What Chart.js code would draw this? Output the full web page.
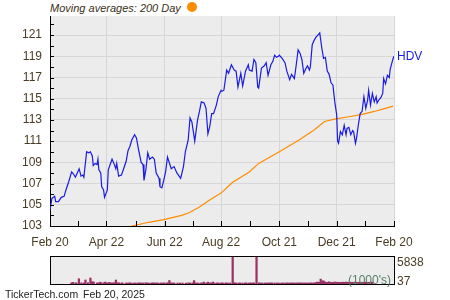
<!DOCTYPE html>
<html>
<head>
<meta charset="utf-8">
<script src="https://cdn.jsdelivr.net/npm/chart.js@4/dist/chart.umd.min.js"></script>
<style>
  body { margin:0; background:#fff; width:450px; height:300px; overflow:hidden; position:relative;
         font-family:'Liberation Sans', Arial, sans-serif; }
  #mainBox { position:absolute; left:0; top:0; width:450px; height:250px; }
  #volBox  { position:absolute; left:0; top:250px; width:450px; height:50px; }
  .txt { position:absolute; white-space:nowrap; font-size:12px; line-height:14px; }
  #title { left:50px; top:1px; font-size:11px; font-style:italic; color:#3a3020; }
  #dot { position:absolute; left:187px; top:2px; width:10px; height:10px; border-radius:50%; background:#ff8c00; }
  #foot1 { left:5px; top:287px; font-size:10.5px; color:#222; }
  #foot2 { left:83px; top:287px; font-size:10.5px; color:#222; }
</style>
</head>
<body>
<div class="txt" id="title">Moving averages: 200 Day</div>
<div id="dot"></div>
<div id="mainBox"><canvas id="mainChart" width="450" height="250"></canvas></div>
<div id="volBox"><canvas id="volChart" width="450" height="50"></canvas></div>
<div class="txt" id="foot1">TickerTech.com</div>
<div class="txt" id="foot2">Feb 20, 2025</div>
<script>
// x = days since Feb 20, 2024
const hdvDays = [0,2,5,6,9,12,15,17,20,23, 25,27,31,33,35,36,39,41,43,45,
  46,48,50,51,52,54,55,57,58,61, 62,66,68,70,71,73,76,78,81,83,
  85,87,90,92,94,97,99,100,102,104, 106,109,111,113,116,117,119,121,123,125,
  129,132,135,139,142,144,147,149,151,154, 157,159,161,164,166,168,170,172,174,177,
  179,182,183,185,188,190,193,196,198,200, 203,205,208,211,212,215,217,219,221,222,
  225,228,230,232,235,237,239,241,243,244, 247,250,252,255,257,260,262,264,266,268,
  270,272,274,276,277,279,281,283,285,287, 289,291,293,295,297,299,301,303,305,306,
  307,309,311,313,315,316,318,320,322,323, 325,326,328,330,332,334,336,338,339,341,
  343,345,347,348,350,352,354,355,357,359, 361,362,365,366];
const hdvClose = [104.5,105.6,105.8,105.3,105.3,105.7,105.8,106.4,107.2,108.1,
  107.9,107.6,108.4,107.7,107.8,107.6,110.0,109.9,110.0,109.6,
  108.7,108.9,108.8,109.3,108.3,108.0,106.7,106.4,105.7,106.4,
  108.3,109.3,108.9,108.4,108.9,107.7,107.8,108.3,109.1,110.1,
  110.5,111.1,111.6,111.3,110.3,109.0,108.8,107.3,108.3,109.9,
  109.3,109.5,109.3,108.0,107.5,106.7,106.6,107.3,108.1,109.5,
  108.4,108.6,108.0,107.5,108.6,110.0,111.1,113.2,112.8,111.0,
  113.0,113.8,114.7,114.6,114.1,111.7,112.4,113.6,113.6,114.4,
  115.2,115.8,115.7,115.8,117.7,117.4,118.2,117.7,117.6,116.1,
  117.4,116.2,117.6,118.2,117.7,117.6,118.7,118.4,116.1,116.0,
  117.9,118.1,118.4,117.2,118.2,118.5,119.1,118.9,119.0,119.1,
  118.8,118.4,117.6,116.8,117.3,116.9,118.2,119.6,119.3,118.7,
  117.4,117.8,118.1,117.7,118.0,120.1,120.5,120.8,121.0,121.2,
  119.9,118.8,118.9,117.6,117.3,116.5,116.3,114.7,113.5,111.0,
  110.8,111.9,111.6,112.5,111.6,112.2,112.3,111.6,112.0,111.9,
  110.8,111.2,112.5,113.6,113.8,115.2,114.1,114.9,115.8,114.4,
  115.5,114.7,115.2,114.6,114.9,115.1,115.5,116.9,116.4,117.2,
  117.0,117.8,118.8,119.0];
// 200 day moving average
const maDays = [87,105,121,140,148,159,169,182,194,212,222,244,265,281,292,304,318,331,345,355,365];
const ma200  = [103.0,103.35,103.6,104.0,104.25,104.8,105.4,106.1,107.1,108.1,108.9,110.0,111.1,
  112.05,112.85,113.1,113.3,113.5,113.8,114.05,114.3];
// volume in 1000's, same days as hdvDays
const volume = [300,380,260,240,1130,280,250,870,300,1280,
  520,470,260,290,420,250,310,440,260,240,
  380,260,230,270,250,860,290,250,270,240,
  260,230,250,220,270,240,230,260,250,280,
  240,250,300,260,230,250,270,240,250,260,
  230,250,240,270,260,250,760,280,240,250,
  260,240,250,230,270,250,260,740,300,250,
  240,260,430,250,420,260,250,450,240,260,
  250,230,260,240,270,250,260,5560,300,250,
  240,260,250,230,270,240,250,260,240,250,
  5838,280,250,240,260,230,250,270,240,250,
  260,240,250,230,270,240,260,250,240,270,
  250,240,260,230,250,270,240,250,260,240,
  250,270,240,260,350,450,380,1050,640,700,
  600,420,380,500,350,400,380,450,420,380,
  360,400,380,420,400,450,380,420,400,380,
  400,420,380,400,380,360,400,380,420,400,
  380,400,420,400];

const xTickDays = [0,60,122,182,244,305,366];
const xTickLabels = ['Feb 20','Apr 22','Jun 22','Aug 22','Oct 21','Dec 21','Feb 20'];
const yTicks = [103,105,107,109,111,113,115,117,119,121];
const volTicks = [37,5838];

const txtColor = '#4a3c24';
const fnt = { family:"'Liberation Sans', Arial, sans-serif", size:12 };

// grey plot background
const bgPlugin = {
  id:'bg',
  beforeDraw(c) {
    const a = c.chartArea, ctx = c.ctx;
    ctx.save();
    ctx.fillStyle = '#ececec';
    ctx.fillRect(a.left, a.top, a.right - a.left, a.bottom - a.top);
    ctx.restore();
  }
};

// little tick marks inside the axes + HDV label
const markPlugin = {
  id:'marks',
  afterDraw(c) {
    const a = c.chartArea, ctx = c.ctx, xs = c.scales.x, ys = c.scales.y;
    ctx.save();
    ctx.strokeStyle = '#000';
    ctx.lineWidth = 1;
    ctx.beginPath();
    for (let v = 103; v <= 122; v++) {
      const y = Math.round(ys.getPixelForValue(v)) + 0.5;
      ctx.moveTo(a.left, y); ctx.lineTo(a.left + 4, y);
    }
    xTickDays.forEach((d, i) => {
      const x = Math.round(xs.getPixelForValue(d)) + 0.5;
      ctx.moveTo(x, a.bottom); ctx.lineTo(x, a.bottom - 5);
      if (i > 0) {
        const xm = Math.round(xs.getPixelForValue((d + xTickDays[i-1]) / 2)) + 0.5;
        ctx.moveTo(xm, a.bottom); ctx.lineTo(xm, a.bottom - 5);
      }
    });
    ctx.stroke();
    ctx.fillStyle = '#1a1ae6';
    ctx.font = "12px 'Liberation Sans', Arial, sans-serif";
    ctx.textBaseline = 'middle';
    ctx.fillText('HDV', a.right + 3, ys.getPixelForValue(hdvClose[hdvClose.length - 1]));
    ctx.restore();
  }
};

new Chart(document.getElementById('mainChart'), {
  type:'line',
  data:{ datasets:[
    { label:'HDV', data:hdvDays.map((d,i) => ({x:d, y:hdvClose[i]})),
      borderColor:'#1a1ae6', borderWidth:1.2, pointRadius:0, tension:0 },
    { label:'200 Day', data:maDays.map((d,i) => ({x:d, y:ma200[i]})),
      borderColor:'#ff8c00', borderWidth:1.2, pointRadius:0, tension:0 }
  ]},
  options:{
    responsive:false, animation:false,
    layout:{ padding:{ left:0, right:56, top:16, bottom:0 } },
    plugins:{ legend:{display:false}, tooltip:{enabled:false} },
    scales:{
      x:{ type:'linear', min:0, max:366,
        afterBuildTicks: s => { s.ticks = xTickDays.map(v => ({value:v})); },
        afterFit: s => { s.height = 24; },
        grid:{ color:'#d6d6d6', drawTicks:false },
        border:{ color:'#000', width:1 },
        ticks:{ padding:9, color:txtColor, font:fnt, maxRotation:0, autoSkip:false,
          callback: v => xTickLabels[xTickDays.indexOf(v)] } },
      y:{ min:103, max:122.8,
        afterBuildTicks: s => { s.ticks = yTicks.map(v => ({value:v})); },
        afterFit: s => { s.width = 50; },
        grid:{ color:'#d6d6d6', drawTicks:false },
        border:{ color:'#000', width:1 },
        ticks:{ padding:8, color:txtColor, font:fnt } }
    }
  },
  plugins:[bgPlugin, markPlugin]
});

// volume panel
const volPlugin = {
  id:'volMarks',
  afterDraw(c) {
    const a = c.chartArea, ctx = c.ctx, ys = c.scales.y;
    ctx.save();
    ctx.strokeStyle = '#000';
    ctx.lineWidth = 1;
    ctx.strokeRect(a.left + 0.5, a.top + 0.5, a.right - a.left, a.bottom - a.top);
    ctx.font = "12px 'Liberation Sans', Arial, sans-serif";
    ctx.textBaseline = 'middle';
    ctx.fillStyle = '#5a7f66';
    ctx.fillText("(1000's)", a.right - 46, a.bottom - 3);
    ctx.fillStyle = txtColor;
    ctx.fillText(String(volTicks[1]), a.right + 3, ys.getPixelForValue(volTicks[1]) + 7);
    ctx.fillText(String(volTicks[0]), a.right + 3, ys.getPixelForValue(volTicks[0]) - 2.5);
    ctx.restore();
  }
};

new Chart(document.getElementById('volChart'), {
  type:'bar',
  data:{ datasets:[
    { data:hdvDays.map((d,i) => ({x:d, y:volume[i]})),
      backgroundColor:'#9a3366', barThickness:1.6 }
  ]},
  options:{
    responsive:false, animation:false,
    layout:{ padding:{ left:50, right:56, top:6, bottom:16 } },
    plugins:{ legend:{display:false}, tooltip:{enabled:false} },
    scales:{
      x:{ type:'linear', min:0, max:366, display:false },
      y:{ min:volTicks[0], max:volTicks[1], display:false }
    }
  },
  plugins:[bgPlugin, volPlugin]
});
</script>
</body>
</html>
